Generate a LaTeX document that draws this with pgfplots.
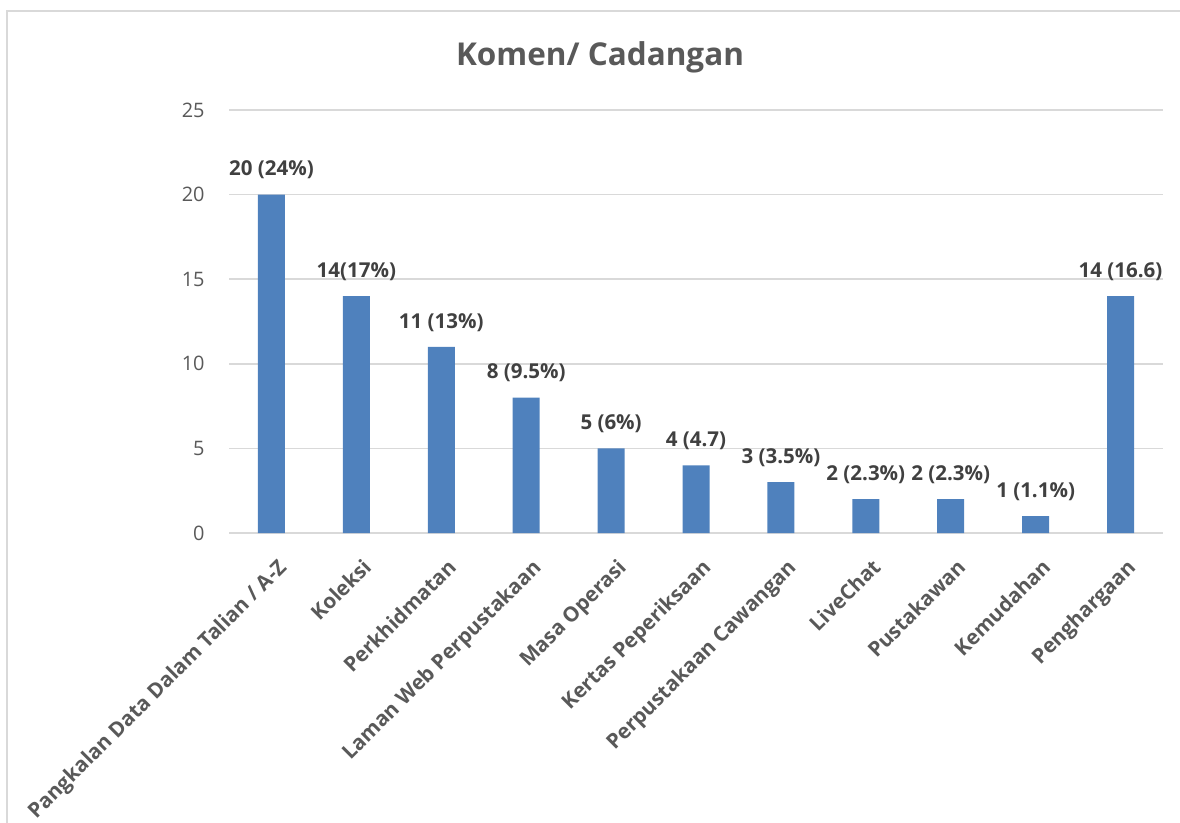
\documentclass[border=0pt]{standalone}
\usepackage{pgfplots}
\pgfplotsset{compat=1.18}
\usepackage{fontspec}
\setmainfont{Open Sans}
\definecolor{barblue}{HTML}{4F81BD}
\definecolor{gridgray}{HTML}{D9D9D9}
\definecolor{txtgray}{HTML}{595959}
\definecolor{lblgray}{HTML}{404040}
\begin{document}
\begin{tikzpicture}
\useasboundingbox (0,0) rectangle (590bp,411.5bp);
% chart frame (left and top edges visible)
\draw[gridgray, line width=0.8bp] (3.5bp,0) -- (3.5bp,406bp) -- (590bp,406bp);
\node[font=\fontsize{15.8}{19}\selectfont\bfseries, text=txtgray] at (300bp,383bp) {Komen/ Cadangan};
\begin{axis}[
  at={(114.5bp,145bp)}, anchor=south west,
  scale only axis, width=467bp, height=211.5bp,
  xmin=-0.5, xmax=10.5, ymin=0, ymax=25,
  ytick={0,5,10,15,20,25},
  xtick={0,...,10},
  xticklabels={Pangkalan Data Dalam Talian / A-Z, Koleksi, Perkhidmatan,
    Laman Web Perpustakaan, Masa Operasi, Kertas Peperiksaan,
    Perpustakaan Cawangan, LiveChat, Pustakawan, Kemudahan, Penghargaan},
  axis line style={draw=none},
  major tick length=0pt,
  ymajorgrids, grid style={draw=gridgray, line width=0.75bp},
  /pgf/number format/assume math mode=true,
  yticklabel style={font=\fontsize{10}{12}\selectfont, text=txtgray,
    inner sep=0pt, anchor=east, xshift=-12bp},
  xticklabel style={font=\fontsize{10.4}{12}\selectfont\bfseries, text=txtgray,
    inner sep=0pt, xshift=2.5bp, yshift=-12bp, rotate=45, anchor=north east},
  ybar, bar width=13.5bp,
  point meta=explicit symbolic,
  nodes near coords,
  nodes near coords style={font=\fontsize{10.3}{12}\selectfont\bfseries,
    text=lblgray, inner sep=0pt, anchor=south, yshift=7.5bp},
  clip=false,
]
\addplot[fill=barblue, draw=none] coordinates {
  (0,20) [20 (24\%)]
  (1,14) [14(17\%)]
  (2,11) [11 (13\%)]
  (3,8) [8 (9.5\%)]
  (4,5) [5 (6\%)]
  (5,4) [4 (4.7)]
  (6,3) [3 (3.5\%)]
  (7,2) [2 (2.3\%)]
  (8,2) [2 (2.3\%)]
  (9,1) [1 (1.1\%)]
  (10,14) [14 (16.6)]
};
\end{axis}
\end{tikzpicture}
\end{document}
